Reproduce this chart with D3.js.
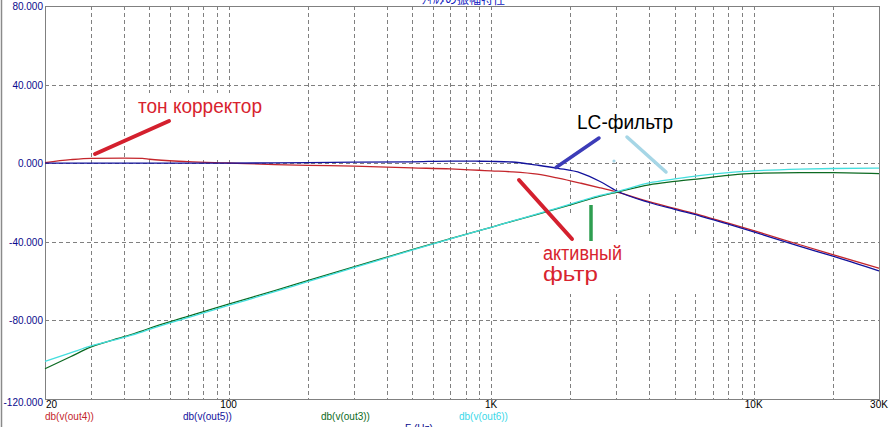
<!DOCTYPE html>
<html>
<head>
<meta charset="utf-8">
<script src="https://cdn.jsdelivr.net/npm/d3@7"></script>
<style>
html,body{margin:0;padding:0;background:#fff;overflow:hidden;}
svg{display:block;}
</style>
</head>
<body>
<script>
// ---- data ----
const freq = [20, 25, 30, 40, 47, 50, 70, 100, 150, 200, 300, 500, 700, 900, 1000, 1200, 1500, 1800, 2200, 2600, 3000, 4000, 5000, 6300, 8000, 10000, 15000, 20000, 30000];
const out4 = [0.3, 1.8, 2.5, 2.6, 2.5, 2.0, 0.8, 0.1, -0.7, -1.1, -1.5, -2.4, -2.9, -3.6, -3.9, -4.4, -5.6, -7.6, -10.2, -12.5, -14.6, -19.6, -23.0, -26.5, -30.5, -34.3, -41.5, -46.5, -53.5];
const out5 = [0, 0, 0, 0, 0, 0, 0, 0, 0.2, 0.3, 0.5, 0.7, 1.1, 1.0, 0.9, 0.6, -1.0, -2.6, -5.0, -9.3, -14.0, -20.0, -23.5, -27.0, -31.0, -35.0, -42.3, -47.3, -54.8];
const out3 = [-104.6, -98.5, -93.5, -88.3, -85.3, -84.0, -78.0, -71.7, -64.8, -59.8, -52.8, -44.0, -38.4, -34.3, -32.6, -29.6, -26.0, -23.0, -19.6, -16.8, -14.8, -11.0, -9.3, -7.8, -6.2, -5.2, -4.8, -4.8, -5.3];
const out6 = [-100.8, -96.5, -93.0, -88.6, -85.8, -84.6, -78.6, -72.4, -65.4, -60.3, -53.2, -44.2, -38.5, -34.3, -32.6, -29.5, -25.8, -22.7, -19.2, -16.4, -14.5, -10.0, -8.0, -6.2, -4.8, -3.9, -3.0, -2.7, -2.5];
const seriesNames = ["db(v(out4))", "db(v(out5))", "db(v(out3))", "db(v(out6))"];
const yTicks = [80, 40, 0, -40, -80, -120];
const yTickLabels = ["80.000", "40.000", "0.000", "-40.000", "-80.000", "-120.000"];
const xTicks = [20, 100, 1000, 10000, 30000];
const xTickLabels = ["20", "100", "1K", "10K", "30K"];
const xGrid = [30,40,50,60,70,80,90,100,200,300,400,500,600,700,800,900,1000,2000,3000,4000,5000,6000,7000,8000,9000,10000,20000];
const yGrid = [40, 0, -40, -80];
const xTitle = "F (Hz)";
const chartTitle = "ﾌｨﾙﾀの振幅特性";
const notes = ["тон корректор", "LC-фильтр", "активный", "фьтр"];

// ---- layout ----
const W = 892, H = 427;
const L = 45, R = 879, T = 6, B = 399;
const svg = d3.select("body").append("svg").attr("width", W).attr("height", H);
const x = d3.scaleLog().domain([20, 30000]).range([L, R]);
const y = d3.scaleLinear().domain([-120, 80]).range([B, T]);
const px = v => Math.round(v) + 0.5;

// window border
svg.append("line").attr("x1", 1.5).attr("x2", 1.5).attr("y1", 0).attr("y2", H).attr("stroke", "#8a8a8a").attr("stroke-width", 1.5);

// title (clipped at top, as in the reference)
svg.append("text").attr("x", 463).attr("y", 4).attr("text-anchor", "middle")
  .attr("font-family", "Noto Sans CJK JP").attr("font-size", 12).attr("fill", "#1020c0").text(chartTitle);

// grid
const grid = svg.append("g").attr("stroke", "#808080").attr("stroke-width", 1).attr("stroke-dasharray", "4,3").attr("shape-rendering", "crispEdges");
grid.selectAll("line.v").data(xGrid).join("line").attr("class", "v")
  .attr("x1", d => px(x(d))).attr("x2", d => px(x(d))).attr("y1", T).attr("y2", B);
grid.selectAll("line.h").data(yGrid).join("line").attr("class", "h")
  .attr("x1", L).attr("x2", R).attr("y1", d => px(y(d))).attr("y2", d => px(y(d)));

// frame
const frame = svg.append("g").attr("stroke", "#808080").attr("stroke-width", 1).attr("shape-rendering", "crispEdges").attr("fill", "none");
frame.append("line").attr("x1", L).attr("x2", R + 1).attr("y1", px(T)).attr("y2", px(T));
frame.append("line").attr("x1", L).attr("x2", R + 1).attr("y1", px(B)).attr("y2", px(B));
frame.append("line").attr("x1", px(L)).attr("x2", px(L)).attr("y1", T).attr("y2", B);
frame.append("line").attr("x1", px(R)).attr("x2", px(R)).attr("y1", T).attr("y2", B);

// white boxes of pasted annotations (hide grid)
const boxes = svg.append("g").attr("fill", "#fff");
boxes.append("rect").attr("x", 134).attr("y", 93).attr("width", 136).attr("height", 66);
boxes.append("rect").attr("x", 562).attr("y", 108).attr("width", 118).attr("height", 54);
boxes.append("rect").attr("x", 542).attr("y", 236).attr("width", 170).attr("height", 58);
boxes.append("rect").attr("x", 556).attr("y", 213).attr("width", 44).attr("height", 24);

// curves
const series = [
  {vals: out4, color: "#c4262c"},
  {vals: out5, color: "#12129c"},
  {vals: out3, color: "#0c6a22"},
  {vals: out6, color: "#44dede"}
];
const line = d3.line().x(d => x(d[0])).y(d => y(d[1])).curve(d3.curveMonotoneX);
svg.append("g").selectAll("path").data(series).join("path")
  .attr("d", s => line(freq.map((f, i) => [f, s.vals[i]])))
  .attr("fill", "none").attr("stroke", s => s.color).attr("stroke-width", 1.3);

// axis labels
const lab = svg.append("g").attr("font-family", "Liberation Sans, Arial, sans-serif").attr("font-size", 10);
lab.selectAll("text.y").data(yTicks).join("text").attr("class", "y")
  .attr("x", 43).attr("y", d => y(d) + 4 + (d === -120 ? 3 : 0)).attr("text-anchor", "end").attr("fill", "#0a0a8c")
  .text((d, i) => yTickLabels[i]);
lab.selectAll("text.x").data(xTicks).join("text").attr("class", "x")
  .attr("x", d => d === 20 ? x(d) + 1 : x(d)).attr("y", 407.5)
  .attr("text-anchor", d => d === 20 ? "start" : "middle").attr("fill", "#000")
  .text((d, i) => xTickLabels[i]);

// legend
const legendX = [45, 183, 321, 459];
const legendColors = ["#c4262c", "#12129c", "#0c6a22", "#3ad8e8"];
lab.selectAll("text.lg").data(seriesNames).join("text").attr("class", "lg")
  .attr("x", (d, i) => legendX[i]).attr("y", 419.5)
  .attr("fill", (d, i) => legendColors[i])
  .text(d => d);
lab.append("text").attr("x", 405).attr("y", 432).attr("fill", "#0a0a8c").text(xTitle);

// annotation pointers
const ptr = svg.append("g").attr("stroke-linecap", "round");
ptr.append("line").attr("x1", 95).attr("y1", 154).attr("x2", 169).attr("y2", 121).attr("stroke", "#d4202e").attr("stroke-width", 4);
ptr.append("line").attr("x1", 556).attr("y1", 167.5).attr("x2", 599).attr("y2", 138).attr("stroke", "#3c3cb8").attr("stroke-width", 3.5);
ptr.append("line").attr("x1", 627).attr("y1", 137).attr("x2", 666).attr("y2", 172).attr("stroke", "#a6d6e6").attr("stroke-width", 3.5);
ptr.append("circle").attr("cx", 614).attr("cy", 161).attr("r", 1.6).attr("fill", "#a6d6e6").attr("stroke", "none");
ptr.append("line").attr("x1", 519).attr("y1", 180).attr("x2", 572).attr("y2", 239).attr("stroke", "#d4202e").attr("stroke-width", 4);
ptr.append("line").attr("x1", 591).attr("y1", 205).attr("x2", 591).attr("y2", 241).attr("stroke", "#2e9e50").attr("stroke-width", 3.5).attr("stroke-linecap", "butt");

// annotation texts
const ann = svg.append("g").attr("font-family", "Liberation Sans, Arial, sans-serif").attr("font-size", 20).attr("lengthAdjust", "spacingAndGlyphs");
const annPos = [[138, 113, 124, "#d8232e"], [577, 129, 96, "#000"], [543, 260, 79, "#d8232e"], [543, 281, 55, "#d8232e"]];
ann.selectAll("text").data(notes).join("text")
  .attr("x", (d, i) => annPos[i][0]).attr("y", (d, i) => annPos[i][1])
  .attr("textLength", (d, i) => annPos[i][2]).attr("lengthAdjust", "spacingAndGlyphs")
  .attr("fill", (d, i) => annPos[i][3]).text(d => d);
</script>
</body>
</html>
